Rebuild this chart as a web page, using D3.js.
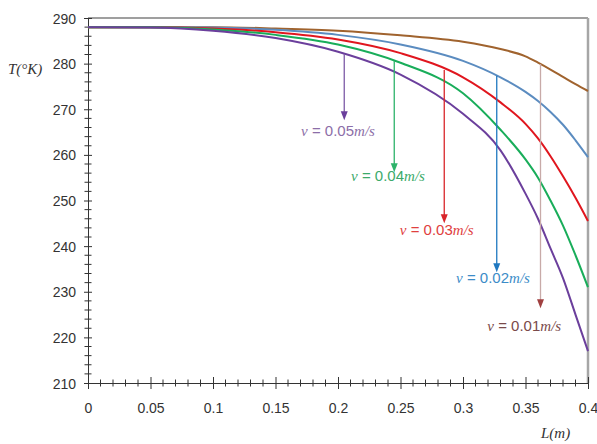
<!DOCTYPE html>
<html>
<head>
<meta charset="utf-8">
<script src="https://cdn.jsdelivr.net/npm/d3@7"></script>
<style>
  body { margin: 0; background: #fff; }
  .tick text { font-family: "Liberation Sans Narrow", "Liberation Sans", sans-serif; font-size: 14px; fill: #333; }
</style>
</head>
<body>
<script>
const width = 597;
const height = 444;
const margin = { top: 18, right: 9, bottom: 61, left: 88 };

// lengths along L (m)
const lengths = [0, 0.05, 0.1, 0.15, 0.2, 0.25, 0.3, 0.33, 0.35, 0.36, 0.37, 0.38, 0.39, 0.4];
// temperatures (K) per velocity
const temp001 = [288, 288, 288, 287.7, 287.2, 286.2, 284.8, 283.2, 281.6, 280.2, 278.7, 277.1, 275.5, 274];
const temp002 = [288, 288, 287.9, 287.4, 286.3, 284.2, 280.6, 277, 273.8, 271.8, 269.4, 266.6, 263.2, 259.5];
const temp003 = [288, 288, 287.7, 286.9, 285.3, 282.3, 277, 271.5, 266.8, 263.6, 259.7, 255.3, 250.6, 245.5];
const temp004 = [288, 288, 287.5, 286.3, 284.2, 280.2, 273.5, 265.5, 259, 255, 250, 244.5, 238, 231];
const temp005 = [288, 287.9, 287.2, 285.6, 282.6, 277.6, 269, 261, 251.5, 246, 239.5, 233, 225, 217];

const velocities = ["0.01", "0.02", "0.03", "0.04", "0.05"];
const series = [temp001, temp002, temp003, temp004, temp005];
const lineColors = ["#a0632e", "#5b8cc0", "#e0161e", "#19ad5a", "#6b3f9c"];
const arrowColors = ["#c8aaa8", "#1f78c0", "#d9252a", "#2db36a", "#7d5ba6"];
const headColors = ["#a04040", "#1f78c0", "#d9252a", "#2db36a", "#6b3f9c"];
const labelColors = ["#7a4a4a", "#3c8cc8", "#e0403e", "#3caa6a", "#8c6ea8"];
// arrow positions: L where it leaves the curve, T where it ends
const arrowL = [0.362, 0.327, 0.285, 0.245, 0.205];
const arrowEndT = [226.4, 234.3, 245, 256.2, 267.6];
// label centre (L, T)
const labelL = [0.349, 0.324, 0.279, 0.24, 0.2];
const labelT = [222.5, 233, 243.5, 255.5, 265.2];

const xTicks = [0, 0.05, 0.1, 0.15, 0.2, 0.25, 0.3, 0.35, 0.4];
const yTicks = [210, 220, 230, 240, 250, 260, 270, 280, 290];

const svg = d3.select("body").append("svg")
  .attr("width", width)
  .attr("height", height);

const x = d3.scaleLinear().domain([0, 0.4]).range([margin.left, width - margin.right]);
const y = d3.scaleLinear().domain([210, 290]).range([height - margin.bottom, margin.top]);

// frame (top and right)
svg.append("line")
  .attr("x1", x(0)).attr("x2", x(0.4)).attr("y1", y(290)).attr("y2", y(290))
  .attr("stroke", "#7f7f7f").attr("stroke-width", 1.5);
svg.append("line")
  .attr("x1", x(0.4)).attr("x2", x(0.4)).attr("y1", y(290)).attr("y2", y(210))
  .attr("stroke", "#a6a6a6").attr("stroke-width", 2.5);

// minor ticks
const xMinor = d3.range(0, 41).map(d => d / 100).filter(d => Math.round(d * 100) % 5 !== 0);
const yMinor = d3.range(210, 291, 2).filter(d => d % 10 !== 0);

svg.append("g").selectAll("line").data(xMinor).join("line")
  .attr("x1", d => x(d)).attr("x2", d => x(d))
  .attr("y1", y(210) - 3.5).attr("y2", y(210) + 3.5)
  .attr("stroke", "#333").attr("stroke-width", 1);
svg.append("g").selectAll("line").data(yMinor).join("line")
  .attr("x1", x(0) - 3.5).attr("x2", x(0) + 3.5)
  .attr("y1", d => y(d)).attr("y2", d => y(d))
  .attr("stroke", "#333").attr("stroke-width", 1);

// axes
const xAxis = svg.append("g")
  .attr("transform", `translate(0,${y(210)})`)
  .call(d3.axisBottom(x).tickValues(xTicks).tickFormat(d3.format("")).tickSizeInner(6).tickSizeOuter(0).tickPadding(14));
xAxis.selectAll(".tick line").attr("y1", -6).attr("stroke", "#333");
xAxis.select(".domain").attr("stroke", "#333");

const yAxis = svg.append("g")
  .attr("transform", `translate(${x(0)},0)`)
  .call(d3.axisLeft(y).tickValues(yTicks).tickSizeInner(4).tickSizeOuter(0).tickPadding(8));
yAxis.selectAll(".tick line").attr("x1", 4).attr("stroke", "#333");
yAxis.select(".domain").attr("stroke", "#333");
yAxis.selectAll(".tick text").attr("dy", "0.36em");

// curves
const line = d3.line()
  .x((d, i) => x(lengths[i]))
  .y(d => y(d))
  .curve(d3.curveMonotoneX);

svg.append("g").selectAll("path").data(series).join("path")
  .attr("d", d => line(d))
  .attr("fill", "none")
  .attr("stroke", (d, i) => lineColors[i])
  .attr("stroke-width", 2);

// arrows
const interp = (arr, L) => {
  const i = Math.min(d3.bisectRight(lengths, L) - 1, lengths.length - 2);
  const t = (L - lengths[i]) / (lengths[i + 1] - lengths[i]);
  return arr[i] + t * (arr[i + 1] - arr[i]);
};

series.forEach((s, i) => {
  const ax = x(arrowL[i]);
  const y0 = y(interp(s, arrowL[i]));
  const y1 = y(arrowEndT[i]);
  svg.append("line")
    .attr("x1", ax).attr("x2", ax).attr("y1", y0).attr("y2", y1 - 7)
    .attr("stroke", arrowColors[i]).attr("stroke-width", 1.3);
  svg.append("path")
    .attr("d", `M${ax - 3.5},${y1 - 9}L${ax + 3.5},${y1 - 9}L${ax},${y1}Z`)
    .attr("fill", headColors[i]);

  const t = svg.append("text")
    .attr("x", x(labelL[i])).attr("y", y(labelT[i]))
    .attr("text-anchor", "middle").attr("dy", "0.35em")
    .attr("fill", labelColors[i]).attr("font-size", 15);
  t.append("tspan").attr("font-family", "Liberation Serif, serif").attr("font-style", "italic").text("v");
  t.append("tspan").attr("font-family", "Liberation Sans Narrow, Liberation Sans, sans-serif").text(" = " + velocities[i]);
  t.append("tspan").attr("font-family", "Liberation Serif, serif").attr("font-style", "italic").text("m/s");
});

// axis titles
svg.append("text")
  .attr("x", 8).attr("y", 69).attr("dy", "0.35em")
  .attr("font-family", "Liberation Serif, serif").attr("font-style", "italic")
  .attr("font-size", 15).attr("fill", "#333")
  .text("T(°K)");
svg.append("text")
  .attr("x", 541).attr("y", 433).attr("dy", "0.35em")
  .attr("font-family", "Liberation Serif, serif").attr("font-style", "italic")
  .attr("font-size", 15).attr("fill", "#333")
  .text("L(m)");
</script>
</body>
</html>
